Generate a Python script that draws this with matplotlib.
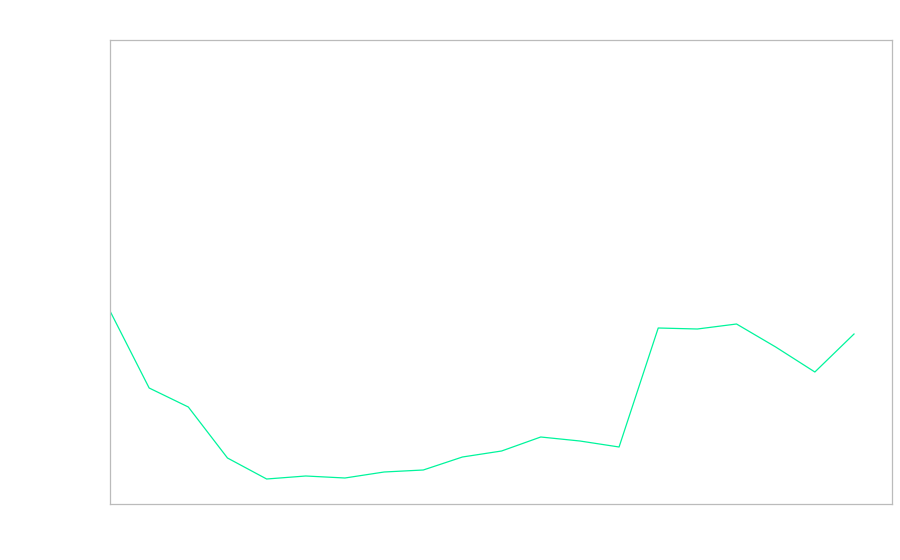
import matplotlib
matplotlib.use("Agg")
import matplotlib.pyplot as plt

# 数据：每个点的序号和数值（按图中像素估计）
x_idx = list(range(20))
values = [193, 116, 97, 46, 25, 28, 26, 32, 34, 47,
          53, 67, 63, 57, 176, 175, 180, 157, 132, 170]

fig = plt.figure(figsize=(9, 5.6), dpi=100)
ax = fig.add_axes([110 / 900, 56 / 560, 782 / 900, 464 / 560])

ax.plot(x_idx, values, color="#00f59c", linewidth=0.9)

ax.set_xlim(0, 19.97)
ax.set_ylim(0, 464)
ax.set_xticks([])
ax.set_yticks([])
for s in ax.spines.values():
    s.set_color("#bbbbbb")
    s.set_linewidth(0.9)

fig.savefig("out.png", dpi=100)
